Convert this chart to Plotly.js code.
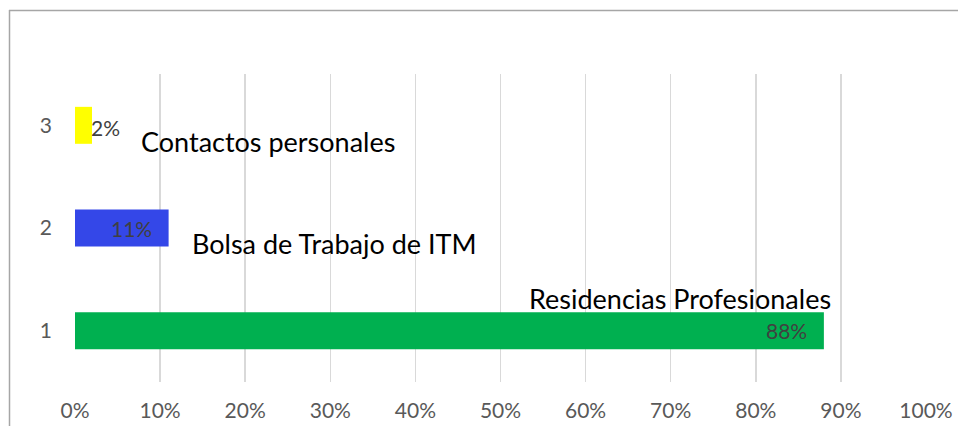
<!DOCTYPE html>
<html><head><meta charset="utf-8">
<script src="https://cdn.plot.ly/plotly-3.0.1.min.js"></script>
<style>html,body{margin:0;padding:0;background:#fff;}#chart{width:958px;height:426px;}</style>
</head><body><div id="chart"></div>
<script>
const categories = ['1', '2', '3'];
const values = [0.88, 0.11, 0.02];
const valueLabels = ['88%', '11%', '2%'];
const barColors = ['#00B050', '#3447E8', '#FFFF00'];
const sourceNames = ['Residencias Profesionales', 'Bolsa de Trabajo de ITM', 'Contactos personales'];
const xTickVals = [0, 0.1, 0.2, 0.3, 0.4, 0.5, 0.6, 0.7, 0.8, 0.9, 1.0];
const xTickText = ['0%', '10%', '20%', '30%', '40%', '50%', '60%', '70%', '80%', '90%', '100%'];

// placement of the name labels (data coords)
const namePos = [{x: 0.711, y: 0.31}, {x: 0.305, y: 0.845}, {x: 0.227, y: 1.84}];

const W = 958, H = 426;
const M = {l: 75, r: 32, t: 74, b: 44};
const pw = W - M.l - M.r, ph = H - M.t - M.b;
const px2paperX = p => (p - M.l) / pw;
const px2paperY = p => (H - M.b - p) / ph;

const annotations = [];
categories.forEach((c, i) => {
  const inside = values[i] > 0.05;
  annotations.push({
    x: values[i], y: i, xref: 'x', yref: 'y',
    text: valueLabels[i], showarrow: false,
    xanchor: inside ? 'right' : 'left',
    xshift: inside ? -15 : -3, yshift: inside ? 0 : -2,
    font: {family: 'Lato, sans-serif', size: 21, color: '#404040'}
  });
  annotations.push({
    x: namePos[i].x, y: namePos[i].y, xref: 'x', yref: 'y',
    text: sourceNames[i], showarrow: false, xanchor: 'center', yanchor: 'middle',
    font: {family: 'Lato, sans-serif', size: 27, color: '#000000'}
  });
});

const shapes = [
  {type: 'line', xref: 'paper', yref: 'paper', x0: px2paperX(9.5), x1: px2paperX(9.5), y0: px2paperY(10), y1: px2paperY(430), line: {color: '#a6a6a6', width: 1.5}},
  {type: 'line', xref: 'paper', yref: 'paper', x0: px2paperX(9), x1: px2paperX(960), y0: px2paperY(10.5), y1: px2paperY(10.5), line: {color: '#a6a6a6', width: 1.5}}
];

Plotly.newPlot('chart', [{
  type: 'bar', orientation: 'h',
  y: categories, x: values,
  marker: {color: barColors},
  width: 0.36,
  hoverinfo: 'none'
}], {
  width: W, height: H,
  margin: M,
  paper_bgcolor: '#ffffff', plot_bgcolor: '#ffffff',
  showlegend: false,
  xaxis: {
    range: [0, 1], tickvals: xTickVals, ticktext: xTickText,
    showgrid: true, gridcolor: '#d9d9d9', gridwidth: 1.5, zeroline: false,
    showline: false, ticks: '', ticklabelstandoff: 14,
    tickfont: {family: 'Lato, sans-serif', size: 21, color: '#595959'},
    fixedrange: true
  },
  yaxis: {
    type: 'category', range: [-0.5, 2.5],
    showgrid: false, zeroline: false, showline: false, ticks: '',
    ticklabelstandoff: 22,
    tickfont: {family: 'Lato, sans-serif', size: 21, color: '#595959'},
    fixedrange: true
  },
  annotations: annotations,
  shapes: shapes
}, {displayModeBar: false, staticPlot: true});
</script></body></html>
